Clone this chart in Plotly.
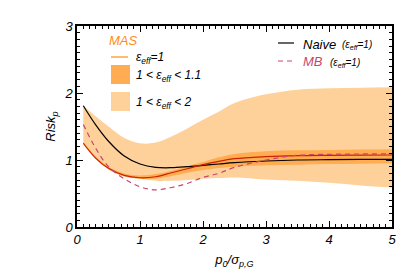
import plotly.graph_objects as go

# ---- data ----
x = [0.1, 0.3, 0.5, 0.75, 1.0, 1.25, 1.5, 1.75, 2.0, 2.25, 2.5, 3.0, 3.5, 4.0, 4.5, 5.0]
naive = [1.81, 1.52, 1.28, 1.06, 0.94, 0.89, 0.885, 0.90, 0.92, 0.94, 0.96, 0.985, 1.0, 1.005, 1.008, 1.01]
mas = [1.25, 1.025, 0.876, 0.77, 0.735, 0.75, 0.81, 0.87, 0.93, 0.98, 1.02, 1.05, 1.065, 1.07, 1.073, 1.075]
mb = [1.53, 1.17, 0.90, 0.72, 0.60, 0.555, 0.59, 0.65, 0.74, 0.80, 0.89, 1.0, 1.07, 1.085, 1.09, 1.09]
dark_hi = [1.27, 1.05, 0.90, 0.80, 0.77, 0.79, 0.84, 0.91, 0.97, 1.04, 1.09, 1.13, 1.145, 1.15, 1.155, 1.16]
dark_lo = [1.24, 1.01, 0.86, 0.755, 0.72, 0.72, 0.76, 0.81, 0.85, 0.88, 0.90, 0.92, 0.93, 0.94, 0.945, 0.95]
light_hi = [1.81, 1.65, 1.50, 1.33, 1.25, 1.26, 1.35, 1.47, 1.60, 1.72, 1.85, 1.98, 2.05, 2.07, 2.08, 2.085]
light_lo = [1.25, 1.02, 0.87, 0.77, 0.72, 0.69, 0.69, 0.70, 0.72, 0.73, 0.74, 0.71, 0.69, 0.66, 0.62, 0.59]

x_ticks = [0, 1, 2, 3, 4, 5]
y_ticks = [0, 1, 2, 3]

LIGHT = "rgb(254,209,155)"
DARK = "rgb(255,172,82)"
RED = "rgb(204,34,0)"
MBC = "rgb(200,70,110)"
ORANGE = "rgb(255,140,26)"
FONT = "Liberation Sans"
NARROW = "Liberation Sans Narrow, Liberation Sans"

fig = go.Figure()

def band(lo, hi, color):
    fig.add_trace(go.Scatter(x=x, y=lo, mode="lines", line=dict(width=0, shape="spline", color=color),
                             showlegend=False, hoverinfo="skip"))
    fig.add_trace(go.Scatter(x=x, y=hi, mode="lines", line=dict(width=0, shape="spline", color=color),
                             fill="tonexty", fillcolor=color, showlegend=False, hoverinfo="skip"))

band(light_lo, light_hi, LIGHT)
band(dark_lo, dark_hi, DARK)

fig.add_trace(go.Scatter(x=x, y=naive, mode="lines", line=dict(color="black", width=1.2, shape="spline"),
                         showlegend=False))
fig.add_trace(go.Scatter(x=x, y=mas, mode="lines", line=dict(color=RED, width=1.2, shape="spline"),
                         showlegend=False))
fig.add_trace(go.Scatter(x=x, y=mb, mode="lines", line=dict(color=MBC, width=1.2, shape="spline", dash="5px,4px"),
                         showlegend=False))

axis_common = dict(
    showline=True, linecolor="black", linewidth=1.5, mirror="allticks",
    ticks="inside", ticklen=6, tickwidth=1.2, tickcolor="black",
    showgrid=False, zeroline=False, automargin=False,
    tickfont=dict(family=FONT, size=13, color="black", style="italic"),
)

fig.update_xaxes(range=[0, 5], tickvals=x_ticks, ticktext=[str(v) for v in x_ticks],
                 minor=dict(dtick=0.1, ticks="inside", ticklen=3, tickcolor="black", tickwidth=1, showgrid=False),
                 title=dict(text="p<sub>0</sub>/σ<sub>p,G</sub>", font=dict(family=FONT, size=13, style="italic"), standoff=9),
                 **axis_common)
fig.update_yaxes(range=[0, 3], tickvals=y_ticks, ticktext=[str(v) for v in y_ticks],
                 minor=dict(dtick=0.1, ticks="inside", ticklen=3, tickcolor="black", tickwidth=1, showgrid=False),
                 title=dict(text="Risk<sub>p</sub>", font=dict(family=FONT, size=13, style="italic"), standoff=6),
                 **axis_common)

# ---- legend (custom) ----
def px2paper(px, py):
    return (px - 77) / (392 - 77), (227 - py) / (227 - 26)

shapes = []
def line_shape(x0, x1, y, color, dash="solid", width=1.2):
    a0, b = px2paper(x0, y)
    a1, _ = px2paper(x1, y)
    shapes.append(dict(type="line", xref="paper", yref="paper", x0=a0, x1=a1, y0=b, y1=b,
                       line=dict(color=color, width=width, dash=dash)))

def rect_shape(x0, y0, x1, y1, color):
    a0, b0 = px2paper(x0, y0)
    a1, b1 = px2paper(x1, y1)
    shapes.append(dict(type="rect", xref="paper", yref="paper", x0=a0, x1=a1, y0=b0, y1=b1,
                       line=dict(width=0), fillcolor=color))

line_shape(111, 128, 57, ORANGE)
rect_shape(111, 65, 130, 84, DARK)
rect_shape(111, 92, 130, 111, LIGHT)
line_shape(278, 294, 43, "black")
line_shape(278, 294, 61, MBC, dash="5px,4px")

annots = []
def text(px, py, s, size=12, color="black", family=FONT):
    a, b = px2paper(px, py)
    annots.append(dict(xref="paper", yref="paper", x=a, y=b, text=s, showarrow=False,
                       xanchor="left", yanchor="middle",
                       font=dict(family=family, size=size, color=color, style="italic")))

text(107, 40, "MAS", size=13, color=ORANGE)
text(134, 58, "ε<sub>eff</sub>=1", size=12, family=NARROW)
text(134, 76, "1 < ε<sub>eff</sub> < 1.1", size=12, family=NARROW)
text(134, 103, "1 < ε<sub>eff</sub> < 2", size=12, family=NARROW)
text(301, 44, "Naive", size=13)
text(340, 45, "(ε<sub>eff</sub>=1)", size=10, family=NARROW)
text(301, 62, "MB", size=13, color=MBC)
text(328, 63, "(ε<sub>eff</sub>=1)", size=10, family=NARROW)

# page body adds an 8px offset, so the figure is sized/margined to compensate
fig.update_layout(
    width=407, height=269,
    margin=dict(l=69, r=23, t=18, b=50),
    paper_bgcolor="white", plot_bgcolor="white",
    shapes=shapes, annotations=annots,
    font=dict(family=FONT, color="black"),
)

fig.write_html("out.html")
